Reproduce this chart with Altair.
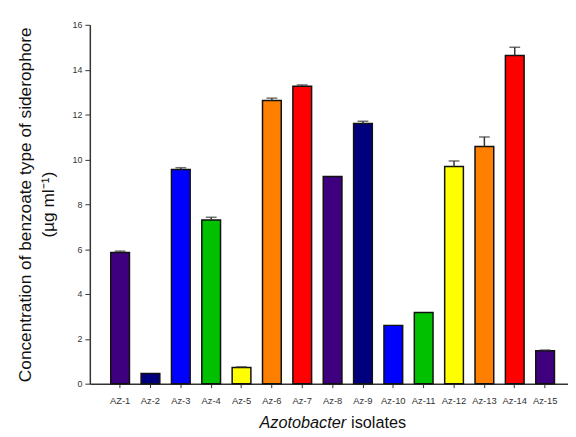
import altair as alt
import pandas as pd

isolates = ["AZ-1", "Az-2", "Az-3", "Az-4", "Az-5", "Az-6", "Az-7", "Az-8",
            "Az-9", "Az-10", "Az-11", "Az-12", "Az-13", "Az-14", "Az-15"]
values = [5.85, 0.45, 9.55, 7.30, 0.72, 12.63, 13.26, 9.24,
          11.60, 2.60, 3.17, 9.68, 10.57, 14.63, 1.47]
errors = [0.06, 0.0, 0.08, 0.12, 0.03, 0.10, 0.06, 0.0,
          0.10, 0.0, 0.0, 0.25, 0.43, 0.37, 0.03]
colors = ["#3f007f", "#00007f", "#0000ff", "#00c000", "#ffff00", "#ff8000", "#ff0000",
          "#3f007f", "#00007f", "#0000ff", "#00c000", "#ffff00", "#ff8000", "#ff0000",
          "#3f007f"]

df = pd.DataFrame({"isolate": isolates, "value": values, "err": errors, "color": colors})
df["top"] = df["value"] + df["err"]

W, H = 485, 364
xscale = alt.Scale(domain=isolates, paddingInner=0.383, paddingOuter=0.567, align=0.607)
yscale = alt.Scale(domain=[0, 16], nice=False)

x = alt.X("isolate:N", scale=xscale, sort=isolates,
          axis=alt.Axis(title=None, labelAngle=0, labelFont="Liberation Sans",
                        labelFontSize=9.5, labelColor="#333333", tickSize=4,
                        tickColor="#333333", domainColor="#333333", domainWidth=1.5,
                        labelPadding=8))
y = alt.Y("value:Q", scale=yscale,
          axis=alt.Axis(values=list(range(0, 17, 2)), grid=False,
                        title=["Concentration of benzoate type of siderophore", "(µg ml⁻¹)"],
                        titleFont="Liberation Sans", titleFontSize=17.5, titleFontWeight="normal",
                        titleColor="#111111", titleLineHeight=23, titlePadding=15,
                        labelFont="Liberation Sans", labelFontSize=9, labelColor="#333333",
                        tickSize=5, tickColor="#333333", domainColor="#333333",
                        domainWidth=1.5, labelPadding=3))

bars = alt.Chart(df).mark_bar(stroke="#111111", strokeWidth=1.5).encode(
    x=x, y=y, fill=alt.Fill("color:N", scale=None))

eb = alt.Chart(df).transform_filter("datum.err > 0")
stems = eb.mark_rule(color="#333333", strokeWidth=1.5).encode(
    x=alt.X("isolate:N", scale=xscale, sort=isolates),
    y=alt.Y("value:Q", scale=yscale), y2="top:Q")
caps = eb.mark_tick(color="#333333", thickness=1.5, size=11).encode(
    x=alt.X("isolate:N", scale=xscale, sort=isolates),
    y=alt.Y("top:Q", scale=yscale))

title_df = pd.DataFrame({"a": [1]})
t1 = alt.Chart(title_df).mark_text(text="Azotobacter", font="Liberation Sans", fontSize=16.5,
                                   fontStyle="italic", align="right", baseline="alphabetic",
                                   color="#111111").encode(
    x=alt.value(260), y=alt.value(409))
t2 = alt.Chart(title_df).mark_text(text="isolates", font="Liberation Sans", fontSize=16.5,
                                   align="left", baseline="alphabetic",
                                   color="#111111").encode(
    x=alt.value(265), y=alt.value(409))

chart = alt.layer(bars, stems, caps, t1, t2).properties(
    width=W, height=H,
    autosize=alt.AutoSizeParams(type="none"),
    padding={"left": 83, "top": 14, "right": 0, "bottom": 50},
    background="white",
).configure_view(stroke=None)

chart.save("out.html", embed_options={"renderer": "svg", "actions": False})
